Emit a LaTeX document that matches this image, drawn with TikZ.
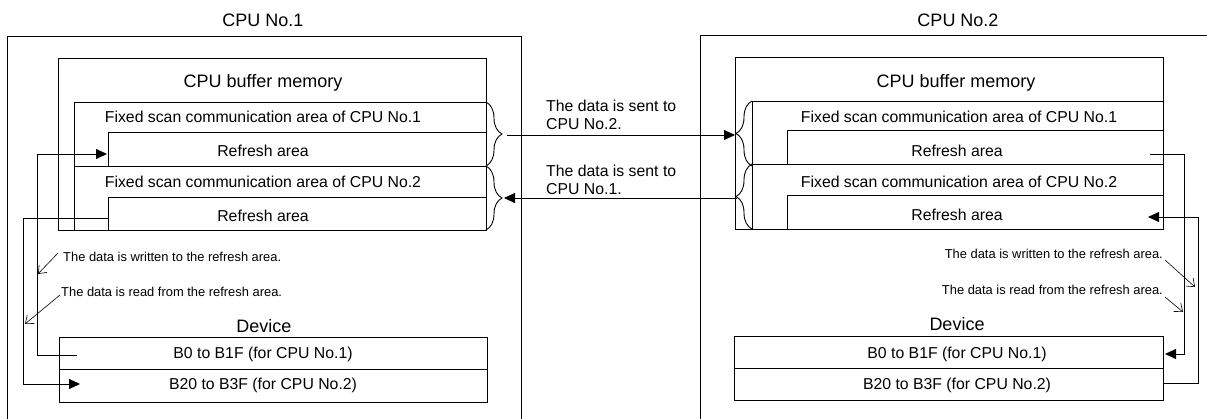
\documentclass[tikz,border=0pt]{standalone}
\usepackage{fontspec}
\setmainfont{Liberation Sans}
\usetikzlibrary{arrows.meta,decorations.pathreplacing,fit}
\tikzset{
  box/.style={draw, line width=0.9pt, inner sep=0pt},
  big/.style={font=\fontsize{18}{20}\selectfont, inner sep=0pt},
  mid/.style={font=\fontsize{15.8}{18}\selectfont, inner sep=0pt},
  small/.style={font=\fontsize{12.9}{15}\selectfont, inner sep=0pt},
  wire/.style={draw, line width=0.9pt},
  flow/.style={draw, line width=0.9pt, -{Triangle[length=11pt,width=10pt]}},
  note/.style={draw, line width=0.6pt, -{Straight Barb[length=7pt,width=11pt]}},
  brc/.style={draw, line width=0.9pt, decorate, decoration={brace, amplitude=16pt}},
}
\begin{document}
\begin{tikzpicture}[x=1pt,y=-1pt]
\useasboundingbox (0,0) rectangle (1207,419);

% ---------------- CPU No.1 ----------------
\node[big] (cpu1) at (263,20) {CPU No.1};
\draw[wire] (7,419) -- (7,36) -- (521,36) -- (521,419);

\node[box, fit={(58,58)(486,230)}] (buf1) {};
\node[box, fit={(74,102)(486,166)}] (fs1a) {};
\node[box, fit={(108,132)(486,166)}] (rf1a) {};
\node[box, fit={(74,166)(486,230)}] (fs1b) {};
\node[box, fit={(108,197)(486,230)}] (rf1b) {};
\node[big] (tbuf1) at (263,83) {CPU buffer memory};
\node[mid] (tfs1a) at (263,117) {Fixed scan communication area of CPU No.1};
\node[mid] (trf1a) at (263,151) {Refresh area};
\node[mid] (tfs1b) at (263,182) {Fixed scan communication area of CPU No.2};
\node[mid] (trf1b) at (263,216) {Refresh area};

\draw[brc] (486,102) -- (486,166);
\draw[brc] (486,166) -- (486,230);

\node[big] (tdev1) at (264,326) {Device};
\node[box, fit={(59,337)(487,369)}] (d1a) {};
\node[box, fit={(59,369)(487,402)}] (d1b) {};
\node[mid] (td1a) at (263,354) {B0 to B1F (for CPU No.1)};
\node[mid] (td1b) at (263,385) {B20 to B3F (for CPU No.2)};

% refresh paths CPU No.1
\coordinate (a0) at (108,218);
\coordinate (a1) at (23,218);
\coordinate (a2) at (23,384);
\coordinate (a3) at (80,384);
\draw[flow] (a0) -- (a1) -- (a2) -- (a3);
\coordinate (b0) at (77,355);
\coordinate (b1) at (37,355);
\coordinate (b2) at (37,154);
\coordinate (b3) at (107,154);
\draw[flow] (b0) -- (b1) -- (b2) -- (b3);

\node[small, anchor=west] (nw1) at (63,257) {The data is written to the refresh area.};
\node[small, anchor=west] (nr1) at (61,292) {The data is read from the refresh area.};
\coordinate (nw1s) at (58,253);
\coordinate (nw1e) at (38,274);
\coordinate (nr1s) at (60,295);
\coordinate (nr1e) at (25,324);
\draw[note] (nw1s) -- (nw1e);
\draw[note] (nr1s) -- (nr1e);

% ---------------- CPU No.2 ----------------
\node[big] (cpu2) at (958,20) {CPU No.2};
\draw[wire] (700,419) -- (700,35) -- (1210,35);

\node[box, fit={(735,57)(1163,229)}] (buf2) {};
\node[box, fit={(752,101)(1163,164)}] (fs2a) {};
\node[box, fit={(787,130)(1163,164)}] (rf2a) {};
\node[box, fit={(752,164)(1163,229)}] (fs2b) {};
\node[box, fit={(787,195)(1163,229)}] (rf2b) {};
\node[big] (tbuf2) at (956,83) {CPU buffer memory};
\node[mid] (tfs2a) at (959,117) {Fixed scan communication area of CPU No.1};
\node[mid] (trf2a) at (957,151) {Refresh area};
\node[mid] (tfs2b) at (959,182) {Fixed scan communication area of CPU No.2};
\node[mid] (trf2b) at (957,215) {Refresh area};

\draw[brc] (752,166) -- (752,101);
\draw[brc] (752,229) -- (752,164);

\node[big] (tdev2) at (957,324) {Device};
\node[box, fit={(734,336)(1163,368)}] (d2a) {};
\node[box, fit={(734,368)(1163,400)}] (d2b) {};
\node[mid] (td2a) at (957,354) {B0 to B1F (for CPU No.1)};
\node[mid] (td2b) at (957,385) {B20 to B3F (for CPU No.2)};

% refresh paths CPU No.2
\coordinate (c0) at (1150,154);
\coordinate (c1) at (1184,154);
\coordinate (c2) at (1184,354);
\coordinate (c3) at (1165,354);
\draw[flow] (c0) -- (c1) -- (c2) -- (c3);
\coordinate (e0) at (1163,383);
\coordinate (e1) at (1198,383);
\coordinate (e2) at (1198,217);
\coordinate (e3) at (1148,217);
\draw[flow] (e0) -- (e1) -- (e2) -- (e3);

\node[small, anchor=east] (nw2) at (1163,254) {The data is written to the refresh area.};
\node[small, anchor=east] (nr2) at (1163,290) {The data is read from the refresh area.};
\coordinate (nw2s) at (1165,260);
\coordinate (nw2e) at (1195,287);
\coordinate (nr2s) at (1165,297);
\coordinate (nr2e) at (1183,312);
\draw[note] (nw2s) -- (nw2e);
\draw[note] (nr2s) -- (nr2e);

% ---------------- transfer between CPUs ----------------
\coordinate (s12) at (507,135);
\coordinate (e12) at (735,135);
\draw[flow] (s12) -- (e12);
\coordinate (s21) at (737,198);
\coordinate (e21) at (504,198);
\draw[flow] (s21) -- (e21);
\node[mid, anchor=west, align=left] (t12) at (546,115) {The data is sent to\\CPU No.2.};
\node[mid, anchor=west, align=left] (t21) at (546,179.5) {The data is sent to\\CPU No.1.};
\end{tikzpicture}
\end{document}
